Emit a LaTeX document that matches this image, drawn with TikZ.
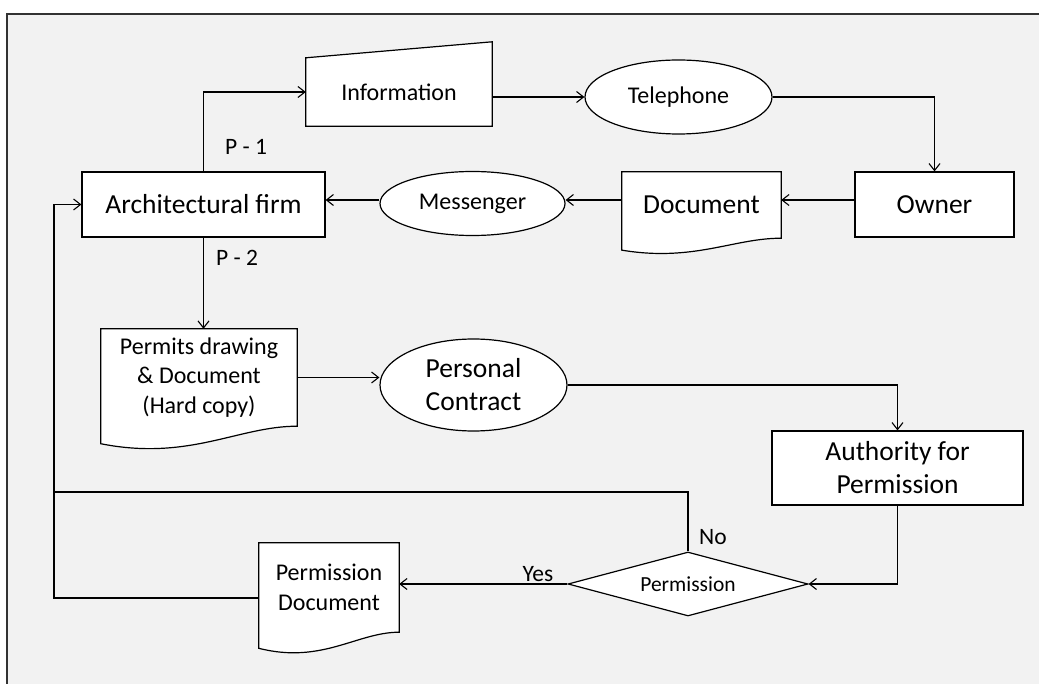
\documentclass[tikz,border=0pt]{standalone}
\usepackage{fontspec}
\setmainfont{Carlito}
\usetikzlibrary{arrows.meta,shapes.geometric,calc}

\definecolor{panel}{RGB}{242,242,242}
\definecolor{framec}{RGB}{50,50,50}

\pgfdeclarelayer{back}
\pgfdeclarelayer{outlines}
\pgfsetlayers{back,outlines,main}

\tikzset{
  line/.style={draw=black, line width=1.2pt},
  arr/.style={line, -{Straight Barb[length=7pt,width=11pt,line width=1.1pt]}},
  box/.style={draw=black, line width=1.2pt, fill=white, inner sep=0pt, align=center},
  ell/.style={box, ellipse},
  dia/.style={box, diamond, aspect=3.75},
  docbody/.style={inner sep=0pt, align=center},
  big/.style={font=\fontsize{27.5}{33}\selectfont},
  mid/.style={font=\fontsize{24}{29.5}\selectfont},
  lbl/.style={inner sep=0pt, font=\fontsize{23.5}{28}\selectfont},
}

% outline of a flowchart "document" symbol around a named node
\newcommand{\docoutline}[1]{%
  \draw[line, fill=white] let \p1=(#1.north west), \p2=(#1.south east),
      \n1={\y1-\y2}, \n2={\x2-\x1} in
    (\x2,\y2) -- (\x2,\y1) -- (\x1,\y1) -- (\x1,{\y2-0.18*\n1})
    .. controls ({\x1+0.45*\n2},{\y2-0.36*\n1}) and ({\x1+0.7*\n2},\y2) .. (\x2,\y2) -- cycle;}

\begin{document}
\begin{tikzpicture}[x=1pt,y=-1pt]
\useasboundingbox (0,0) rectangle (1039,684);

\begin{pgfonlayer}{back}
  \fill[white] (0,0) rectangle (1039,684);
  \fill[panel] (7,14) rectangle (1039,684);
  \draw[framec, line width=2pt] (7,684) -- (7,14) -- (1039,14);
\end{pgfonlayer}

% nodes
\node[box, big, minimum width=243pt, minimum height=65pt] (arch) at (203.5,204.5) {Architectural firm};
\node[docbody, mid, minimum width=186pt, minimum height=68pt] (info) at (399,92) {Information};
\node[ell, mid, minimum width=187pt, minimum height=74pt] (tele) at (678.5,97) {Telephone};
\node[box, big, minimum width=159pt, minimum height=65pt] (owner) at (934.5,204.5) {Owner};
\node[docbody, big, minimum width=159pt, minimum height=66pt] (doc) at (701.5,205) {Document};
\node[ell, mid, minimum width=185pt, minimum height=64pt] (mess) at (472.5,203.5) {Messenger};
\node[docbody, mid, minimum width=196pt, minimum height=97pt] (permits) at (199,377.5) {Permits drawing\\\& Document\\(Hard copy)};
\node[ell, big, minimum width=187pt, minimum height=92pt] (pc) at (473.5,385) {Personal\\Contract};
\node[box, big, minimum width=251pt, minimum height=74pt] (auth) at (897.5,468) {Authority for\\Permission};
\node[dia, font=\fontsize{21.5}{26}\selectfont, minimum width=240pt, minimum height=64pt] (dec) at (688,584) {Permission};
\node[docbody, mid, minimum width=140pt, minimum height=89pt] (pdoc) at (329,587.5) {Permission\\Document};

% symbol outlines drawn behind the texts
\begin{pgfonlayer}{outlines}
  \draw[line, fill=white] (info.south west) -- (info.north west)
      -- ([yshift=16pt]info.north east) -- (info.south east) -- cycle;
  \docoutline{doc}
  \docoutline{permits}
  \docoutline{pdoc}
\end{pgfonlayer}

% labels
\node[lbl] (p1) at (246,147) {P - 1};
\node[lbl] (p2) at (237,258) {P - 2};
\node[lbl] (yes) at (538,574) {Yes};
\node[lbl] (no) at (713,537) {No};

% connectors
\coordinate (row) at (0,200);
\coordinate (loop) at (54,492);
\draw[arr] (arch.north) |- (info.west);
\draw[arr] (info.east |- tele.west) -- (tele.west);
\draw[arr] (tele.east) -| (owner.north);
\draw[arr] (owner.west |- row) -- (doc.east |- row);
\draw[arr] (doc.west |- row) -- (mess.east |- row);
\draw[arr] (mess.west |- row) -- (arch.east |- row);
\draw[arr] (arch.south) -- (arch.south |- permits.north);
\draw[arr] (permits.east) -- (permits.east -| pc.west);
\draw[arr] (pc.east) -| (auth.north);
\draw[arr] (auth.south) |- (dec.east);
\draw[arr] (dec.west) -- (dec.west -| pdoc.east);
\draw[line] (dec.north) |- (loop);
\draw[arr] ([yshift=-10.5pt]pdoc.west) -| (loop) |- (arch.west);
\end{tikzpicture}
\end{document}
